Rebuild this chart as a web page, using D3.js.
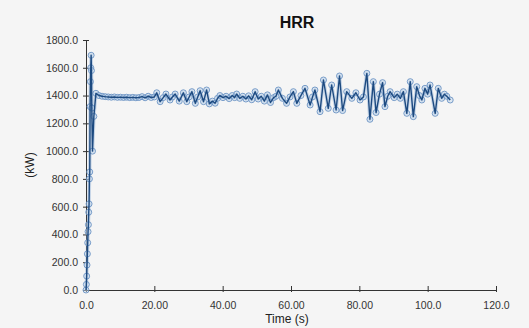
<!DOCTYPE html>
<html>
<head>
<meta charset="utf-8">
<script src="https://cdn.jsdelivr.net/npm/d3@7/dist/d3.min.js"></script>
<style>
  html, body { margin: 0; padding: 0; background: #f5f5f5; }
  svg { display: block; font-family: "Liberation Sans", Arial, sans-serif; }
</style>
</head>
<body>
<div id="chart"></div>
<script>
const width = 529, height = 328;
const margin = { top: 40, right: 33, bottom: 38, left: 86 };

// time (s)
const times = [
  0.0, 0.1, 0.2, 0.3, 0.4, 0.5, 0.6, 0.7, 0.8, 0.9, 1.0, 1.1, 1.2, 1.3, 1.4, 1.5, 1.6, 1.7, 1.9, 2.3,
  2.9, 3.8, 4.7, 5.6, 6.5, 7.4, 8.3, 9.2, 10.1, 11.0, 11.9, 12.8, 13.7, 14.6, 15.5, 16.4, 17.3, 18.2, 19.1, 20.0,
  20.7, 21.7, 22.6, 23.4, 24.6, 25.3, 26.1, 27.3, 28.5, 29.5, 30.2, 31.0, 32.0, 32.7, 33.4, 34.4, 35.3, 36.1, 37.0, 37.8,
  38.5, 39.2, 40.1, 41.0, 41.9, 42.8, 43.5, 44.1, 45.0, 45.9, 46.8, 47.6, 48.5, 49.5, 50.4, 51.3, 52.2, 53.1, 54.0, 54.9,
  55.6, 56.3, 57.5, 58.7, 59.7, 60.7, 61.7, 62.9, 64.1, 65.6, 66.3, 67.0, 68.5, 69.5, 70.9, 71.9, 73.2, 74.2, 75.1, 76.3,
  77.8, 79.0, 80.2, 81.2, 82.2, 83.1, 84.1, 84.9, 85.9, 86.8, 87.5, 88.3, 89.0, 90.2, 91.1, 92.0, 92.9, 93.9, 94.9, 95.8,
  96.8, 97.6, 98.3, 99.2, 100.0, 100.7, 102.2, 103.1, 104.1, 104.9, 105.6, 106.6
];

// HRR (kW)
const hrr = [
  0, 40, 100, 180, 260, 340, 420, 470, 560, 620, 800, 850, 1320, 1500, 1600, 1690, 1580, 1310, 1000, 1250,
  1416, 1400, 1395, 1392, 1390, 1388, 1390, 1387, 1388, 1386, 1388, 1385, 1387, 1384, 1386, 1392, 1384, 1395, 1386, 1390,
  1420, 1356, 1385, 1411, 1368, 1390, 1411, 1360, 1420, 1356, 1390, 1428, 1344, 1390, 1435, 1356, 1440, 1340, 1360, 1345,
  1380, 1400, 1385, 1395, 1378, 1400, 1385, 1411, 1380, 1395, 1375, 1398, 1370, 1428, 1375, 1395, 1360, 1405, 1350, 1385,
  1395, 1440, 1380, 1344, 1390, 1428, 1344, 1400, 1452, 1332, 1390, 1440, 1284, 1512, 1308, 1476, 1296, 1541, 1292, 1428,
  1380, 1420, 1368, 1390, 1560, 1229, 1500, 1278, 1410, 1493, 1320, 1395, 1428, 1385, 1410, 1380, 1428, 1272, 1500, 1248,
  1464, 1400, 1368, 1452, 1410, 1476, 1272, 1452, 1380, 1410, 1395, 1368
];

const xTicks = [0, 20, 40, 60, 80, 100, 120];
const xTickLabels = ["0.0", "20.00", "40.00", "60.00", "80.00", "100.0", "120.0"];
const yTicks = [0, 200, 400, 600, 800, 1000, 1200, 1400, 1600, 1800];

const data = times.map((t, i) => ({ t: t, v: hrr[i] }));

const svg = d3.select("#chart")
  .append("svg")
  .attr("width", width)
  .attr("height", height)
  .style("background-color", "#f5f5f5");

const x = d3.scaleLinear()
  .domain([0, 120])
  .range([margin.left, width - margin.right]);

const y = d3.scaleLinear()
  .domain([0, 1800])
  .range([height - margin.bottom, margin.top]);

// axes
const xAxis = d3.axisBottom(x)
  .tickValues(xTicks)
  .tickFormat((d, i) => xTickLabels[i])
  .tickSizeInner(4)
  .tickSizeOuter(0)
  .tickPadding(8);

const yAxis = d3.axisLeft(y)
  .tickValues(yTicks)
  .tickFormat(d3.format(".1f"))
  .tickSizeInner(3)
  .tickSizeOuter(0)
  .tickPadding(5);

const gx = svg.append("g")
  .attr("transform", `translate(0,${y(0)})`)
  .call(xAxis);

const gy = svg.append("g")
  .attr("transform", `translate(${x(0)},0)`)
  .call(yAxis);

[gx, gy].forEach(g => {
  g.select(".domain").attr("stroke", "#333");
  g.selectAll(".tick line").attr("stroke", "#333");
  g.selectAll(".tick text")
    .attr("fill", "#333")
    .style("font-size", "10.5px");
});

// ticks cross the axis line
gx.selectAll(".tick line").attr("y1", -4).attr("y2", 2);
gy.selectAll(".tick line").attr("x1", -3).attr("x2", 3);

// line + markers
const line = d3.line()
  .x(d => x(d.t))
  .y(d => y(d.v));

svg.append("path")
  .datum(data)
  .attr("fill", "none")
  .attr("stroke", "#7fa6d3")
  .attr("stroke-opacity", 0.4)
  .attr("stroke-width", 3.5)
  .attr("stroke-linejoin", "round")
  .attr("d", line);

svg.append("g")
  .selectAll("circle")
  .data(data)
  .join("circle")
  .attr("cx", d => x(d.t))
  .attr("cy", d => y(d.v))
  .attr("r", 3)
  .attr("fill", "#c6d9ee")
  .attr("fill-opacity", 0.5)
  .attr("stroke", "#6b93c4")
  .attr("stroke-width", 0.9);

svg.append("path")
  .datum(data)
  .attr("fill", "none")
  .attr("stroke", "#1d4a80")
  .attr("stroke-width", 1.4)
  .attr("stroke-linejoin", "round")
  .attr("d", line);

// texts
svg.append("text")
  .attr("x", 297)
  .attr("y", 28)
  .attr("text-anchor", "middle")
  .style("font-size", "16px")
  .style("font-weight", "bold")
  .attr("fill", "#111")
  .text("HRR");

svg.append("text")
  .attr("x", 287)
  .attr("y", 323)
  .attr("text-anchor", "middle")
  .style("font-size", "12px")
  .attr("fill", "#222")
  .text("Time (s)");

svg.append("text")
  .attr("transform", "translate(34,165) rotate(-90)")
  .attr("text-anchor", "middle")
  .style("font-size", "12px")
  .attr("fill", "#222")
  .text("(kW)");
</script>
</body>
</html>
